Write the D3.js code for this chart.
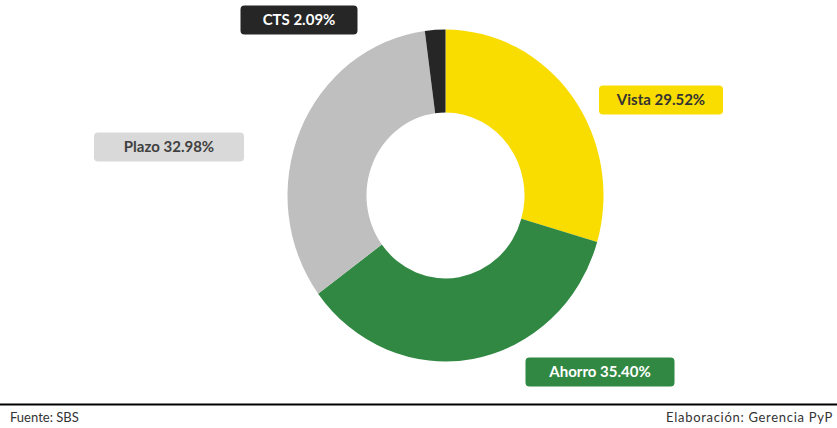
<!DOCTYPE html>
<html>
<head>
<meta charset="utf-8">
<script src="https://cdn.jsdelivr.net/npm/d3@7"></script>
<style>
  body { margin: 0; background: #fff; }
  svg { display: block; }
</style>
</head>
<body>
<div class="chart"></div>
<script>
var width = 837
var height = 428

// data
var categories = ["Vista", "Ahorro", "Plazo", "CTS"]
var shares = [29.52, 35.40, 32.98, 2.09]
var colors = ["#f9dc00", "#318842", "#bfbfbf", "#262626"]
var labelFill = ["#f9dc00", "#318842", "#d9d9d9", "#262626"]
var labelText = ["#333333", "#ffffff", "#404040", "#ffffff"]
// label box centres
var labelPos = [[661, 100], [600, 372], [169, 147], [299, 20]]
var labelW = [124, 149, 150, 117]

var svg = d3.select('.chart')
    .append('svg')
    .attr("width", width)
    .attr("height", height)

var cx = 445.5, cy = 195.5
var rOuter = 158, rInner = 79

var pie = d3.pie()
    .sort(null)
    .value(function(d){ return d })

var arc = d3.arc()
    .innerRadius(rInner)
    .outerRadius(rOuter)

var g = svg.append('g')
    .attr("transform", "translate(" + cx + "," + cy + ") scale(1,1.05)")

g.selectAll("path")
    .data(pie(shares))
    .enter()
    .append("path")
    .attr("d", arc)
    .attr("fill", function(d, i){ return colors[i] })

// labels
var lab = svg.append('g')
    .selectAll("g")
    .data(categories)
    .enter()
    .append("g")
    .attr("transform", function(d, i){ return "translate(" + labelPos[i][0] + "," + labelPos[i][1] + ")" })

lab.append("rect")
    .attr("x", function(d, i){ return -labelW[i] / 2 })
    .attr("y", -14.5)
    .attr("width", function(d, i){ return labelW[i] })
    .attr("height", 29)
    .attr("rx", 4)
    .attr("fill", function(d, i){ return labelFill[i] })

lab.append("text")
    .attr("text-anchor", "middle")
    .attr("dy", "0.36em")
    .attr("font-family", "Lato, sans-serif")
    .attr("font-weight", 700)
    .attr("font-size", 15)
    .attr("fill", function(d, i){ return labelText[i] })
    .text(function(d, i){ return d + " " + shares[i].toFixed(2) + "%" })

// footer
svg.append("line")
    .attr("x1", 0).attr("x2", width)
    .attr("y1", 404.5).attr("y2", 404.5)
    .attr("stroke", "#000")
    .attr("stroke-width", 2)

svg.append("text")
    .attr("x", 10).attr("y", 422)
    .attr("font-family", "Lato, sans-serif")
    .attr("font-size", 13)
    .attr("fill", "#333")
    .text("Fuente: SBS")

svg.append("text")
    .attr("x", 833).attr("y", 422)
    .attr("text-anchor", "end")
    .attr("font-family", "Lato, sans-serif")
    .attr("font-size", 13)
    .attr("letter-spacing", 0.7)
    .attr("fill", "#333")
    .text("Elaboración: Gerencia PyP")
</script>
</body>
</html>
